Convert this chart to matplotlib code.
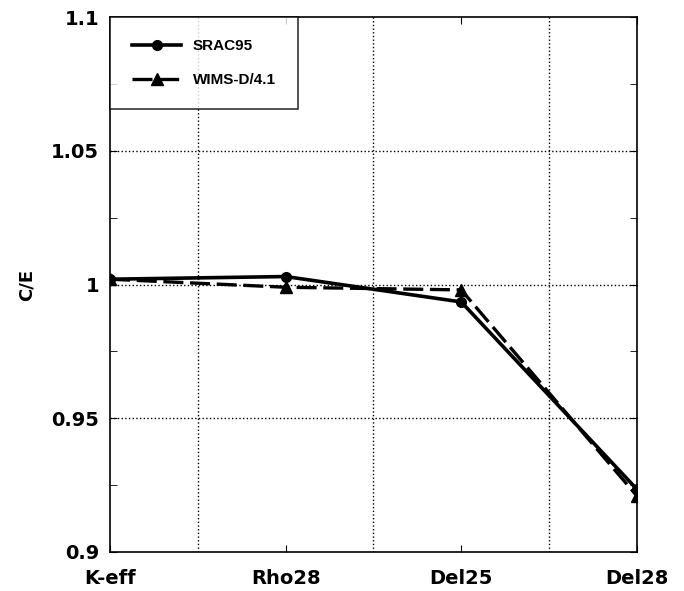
import matplotlib.pyplot as plt
from matplotlib.ticker import MultipleLocator

plt.rcParams['font.family'] = ['DejaVu Sans']
plt.rcParams['font.weight'] = 'bold'

# C/E values per parameter
params = ["K-eff", "Rho28", "Del25", "Del28"]
srac95 = [1.002, 1.003, 0.9935, 0.9235]
wims = [1.002, 0.999, 0.998, 0.921]

fig = plt.figure(figsize=(6.84, 5.91), dpi=100)
ax = fig.add_axes([0.161, 0.066, 0.77, 0.905])

x = range(len(params))
ax.plot(x, srac95, color="black", lw=2.6, marker="o", ms=7, label="SRAC95", zorder=3)
ax.plot(x, wims, color="black", lw=2.4, ls=(0, (6, 2)), marker="^", ms=9, label="WIMS-D/4.1", zorder=3)

ax.set_xlim(0, 3)
ax.set_ylim(0.9, 1.1)
ax.set_xticks(list(x))
ax.set_xticklabels(params, fontsize=14, fontweight="bold")
ax.tick_params(axis="x", pad=12)
ax.set_yticks([0.9, 0.95, 1.0, 1.05, 1.1])
ax.set_yticklabels(["0.9", "0.95", "1", "1.05", "1.1"], fontsize=14, fontweight="bold")
ax.tick_params(axis="y", pad=8)
ax.yaxis.set_minor_locator(MultipleLocator(0.025))
ax.tick_params(direction="in", which="both", top=True, right=True, length=5)
ax.set_ylabel("C/E", fontsize=13, fontweight="bold", labelpad=11)

# dotted grid between categories and at the inner y ticks
for gx in [0.5, 1.5, 2.5]:
    ax.axvline(gx, color="black", ls=":", lw=1, zorder=1)
for gy in [0.95, 1.0, 1.05]:
    ax.axhline(gy, color="black", ls=":", lw=1, zorder=1)

for s in ax.spines.values():
    s.set_linewidth(1.2)

leg = ax.legend(loc="upper left", prop={"family": "Liberation Sans", "weight": "bold", "size": 11},
                frameon=True, fancybox=False, edgecolor="black", handlelength=3.2,
                borderaxespad=0, borderpad=1.45, labelspacing=1.3, handletextpad=0.75)
leg.get_frame().set_linewidth(1.2)

fig.savefig("out.png", dpi=100)
